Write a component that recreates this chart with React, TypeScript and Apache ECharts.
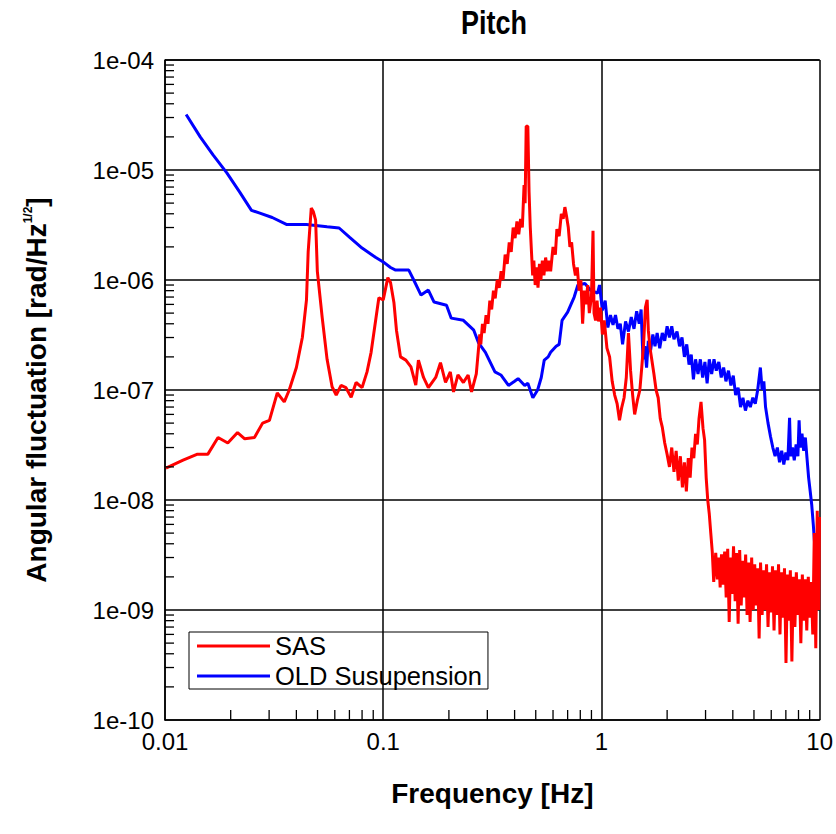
import React, { useEffect, useRef } from "react";
import * as echarts from "echarts";

const FONT = "'Liberation Sans', Arial, sans-serif";

const seriesNames = ["SAS", "OLD Susupension"];

// SAS: [frequency Hz, angular fluctuation rad/Hz^1/2]
const sasLow: number[][] = [
  [0.0101, 1.95e-8], [0.0121, 2.3e-8], [0.014, 2.6e-8], [0.0157, 2.6e-8], [0.0175, 3.7e-8],
  [0.0194, 3.3e-8], [0.0215, 4.1e-8], [0.0232, 3.6e-8], [0.0257, 3.7e-8], [0.028, 5.0e-8],
  [0.0301, 5.3e-8], [0.0327, 9.4e-8], [0.0352, 7.8e-8], [0.0371, 1.0e-7], [0.04, 1.6e-7],
  [0.0426, 3.0e-7], [0.0445, 6.6e-7], [0.0453, 1.8e-6], [0.0468, 4.5e-6], [0.0478, 4.2e-6],
  [0.049, 3.5e-6], [0.0499, 1.2e-6], [0.0525, 4.6e-7], [0.0553, 1.9e-7], [0.0583, 1.07e-7],
  [0.0609, 9e-8], [0.0641, 1.1e-7], [0.0675, 1.05e-7], [0.0713, 8.6e-8], [0.0751, 1.17e-7],
  [0.08, 1.05e-7], [0.0843, 1.46e-7], [0.088, 2.2e-7], [0.0955, 6.9e-7], [0.1, 6.6e-7],
  [0.105, 1.05e-6], [0.108, 9.5e-7], [0.112, 6.2e-7], [0.115, 3.5e-7], [0.12, 2.0e-7],
  [0.127, 1.87e-7], [0.134, 1.62e-7], [0.141, 1.11e-7], [0.145, 1.87e-7], [0.153, 1.3e-7],
  [0.161, 1.05e-7], [0.174, 1.3e-7], [0.183, 1.77e-7], [0.193, 1.17e-7], [0.203, 1.46e-7],
  [0.21, 9.6e-8], [0.22, 1.37e-7], [0.233, 1.17e-7], [0.245, 1.37e-7], [0.254, 9.6e-8],
  [0.267, 1.4e-7],
];
const sasMid: number[][] = [
  [0.273, 2.3e-7], [0.277, 3.2e-7], [0.28, 2.6e-7], [0.285, 4.0e-7], [0.29, 3.3e-7],
  [0.296, 4.8e-7], [0.302, 4.0e-7], [0.308, 6.5e-7], [0.314, 5.4e-7], [0.32, 8.0e-7],
  [0.326, 6.8e-7], [0.333, 1.0e-6], [0.34, 8.5e-7], [0.347, 1.2e-6], [0.354, 1.0e-6],
  [0.362, 1.7e-6], [0.37, 1.4e-6], [0.378, 2.2e-6], [0.386, 1.8e-6], [0.394, 3.0e-6],
  [0.402, 2.4e-6], [0.41, 3.4e-6], [0.418, 2.6e-6], [0.426, 3.6e-6], [0.434, 3.0e-6],
  [0.442, 7.3e-6], [0.447, 5.0e-6], [0.452, 2.5e-5], [0.46, 2.5e-5], [0.466, 6.3e-6],
  [0.472, 3.0e-6], [0.478, 1.8e-6], [0.484, 1.1e-6], [0.49, 1.5e-6], [0.497, 9.0e-7],
  [0.505, 1.3e-6], [0.512, 8.5e-7], [0.52, 1.4e-6], [0.528, 1.0e-6], [0.536, 1.5e-6],
  [0.545, 1.1e-6], [0.555, 1.6e-6], [0.565, 1.2e-6], [0.575, 1.5e-6], [0.585, 1.2e-6],
  [0.6, 2.0e-6], [0.615, 1.7e-6], [0.625, 2.9e-6], [0.64, 2.5e-6], [0.655, 4.0e-6],
  [0.668, 3.6e-6], [0.68, 4.6e-6], [0.692, 3.8e-6], [0.705, 3.0e-6], [0.717, 2.0e-6],
  [0.73, 2.2e-6], [0.745, 1.4e-6], [0.76, 1.1e-6], [0.775, 1.3e-6], [0.79, 8.0e-7],
  [0.805, 1.0e-6], [0.82, 4.0e-7], [0.835, 8.0e-7], [0.85, 6.0e-7], [0.865, 9.0e-7],
  [0.88, 5.0e-7], [0.9, 7.0e-7], [0.915, 2.8e-6], [0.925, 5.0e-7], [0.94, 4.3e-7],
  [0.955, 6.5e-7], [0.97, 4.2e-7], [0.99, 5.6e-7],
];
const sasHigh: number[][] = [
  [1.01, 3.2e-7], [1.03, 4.3e-7], [1.06, 2.4e-7], [1.09, 2.0e-7], [1.12, 1.2e-7],
  [1.15, 9.0e-8], [1.18, 7.5e-8], [1.21, 5.3e-8], [1.24, 7.0e-8], [1.27, 8.5e-8],
  [1.3, 1.3e-7], [1.33, 3.3e-7], [1.36, 1.5e-7], [1.39, 9.0e-8], [1.42, 6.0e-8],
  [1.46, 8.0e-8], [1.5, 1.0e-7], [1.53, 1.6e-7], [1.56, 2.6e-7], [1.59, 5.6e-7],
  [1.62, 6.6e-7], [1.64, 3.5e-7], [1.67, 2.4e-7], [1.7, 1.9e-7], [1.74, 1.4e-7],
  [1.78, 1.0e-7], [1.82, 8.5e-8], [1.86, 5.5e-8], [1.9, 4.6e-8], [1.95, 3.3e-8],
  [2.0, 2.6e-8], [2.05, 2.0e-8], [2.1, 3.0e-8], [2.15, 1.8e-8], [2.2, 2.8e-8],
  [2.25, 1.5e-8], [2.3, 2.5e-8], [2.35, 1.3e-8], [2.4, 2.2e-8], [2.45, 1.2e-8],
  [2.5, 2.4e-8], [2.55, 1.6e-8], [2.6, 3.0e-8], [2.65, 2.4e-8], [2.7, 4.0e-8],
  [2.75, 3.2e-8], [2.8, 5.5e-8], [2.86, 7.8e-8], [2.92, 4.5e-8], [2.97, 3.5e-8],
  [3.02, 1.6e-8], [3.07, 1.0e-8], [3.12, 7.5e-9], [3.17, 5.0e-9], [3.22, 3.4e-9],
  [3.27, 1.8e-9],
];
const sasNoise: number[][] = [
  [3.29, 1.8e-9], [3.34, 3.3e-9], [3.4, 1.9e-9], [3.45, 3.0e-9], [3.5, 1.6e-9],
  [3.55, 3.2e-9], [3.61, 1.7e-9], [3.67, 3.4e-9], [3.73, 1.3e-9], [3.79, 3.6e-9],
  [3.85, 7.8e-10], [3.91, 3.0e-9], [3.97, 1.4e-9], [4.03, 3.8e-9], [4.1, 1.2e-9],
  [4.16, 3.3e-9], [4.23, 7.5e-10], [4.3, 3.5e-9], [4.37, 1.1e-9], [4.44, 2.8e-9],
  [4.51, 1.3e-9], [4.58, 3.2e-9], [4.65, 9.0e-10], [4.72, 2.7e-9], [4.8, 7.8e-10],
  [4.88, 3.0e-9], [4.96, 1.0e-9], [5.04, 2.6e-9], [5.12, 1.1e-9], [5.2, 2.4e-9],
  [5.28, 5.5e-10], [5.36, 2.7e-9], [5.45, 9.0e-10], [5.53, 2.3e-9], [5.62, 1.0e-9],
  [5.71, 2.6e-9], [5.8, 7.0e-10], [5.9, 2.2e-9], [5.99, 9.5e-10], [6.08, 2.5e-9],
  [6.18, 6.5e-10], [6.28, 2.3e-9], [6.38, 9.0e-10], [6.48, 2.6e-9], [6.58, 6.0e-10],
  [6.68, 2.2e-9], [6.79, 8.5e-10], [6.9, 2.4e-9], [7.01, 3.3e-10], [7.12, 2.1e-9],
  [7.23, 8.0e-10], [7.34, 2.3e-9], [7.46, 3.4e-10], [7.58, 2.0e-9], [7.7, 7.0e-10],
  [7.82, 2.2e-9], [7.95, 9.0e-10], [8.07, 1.9e-9], [8.2, 5.0e-10], [8.33, 2.1e-9],
  [8.46, 8.0e-10], [8.6, 1.9e-9], [8.73, 6.5e-10], [8.87, 2.0e-9], [9.01, 8.5e-10],
  [9.15, 1.8e-9], [9.3, 6.0e-10], [9.45, 5.0e-9], [9.6, 4.5e-10], [9.75, 8.0e-9],
  [9.91, 1.0e-9], [9.98, 7.0e-9],
];

// OLD Susupension
const oldLow: number[][] = [
  [0.0125, 3.2e-5], [0.0145, 2.0e-5], [0.0166, 1.37e-5], [0.0192, 9.4e-6], [0.022, 6.3e-6],
  [0.0249, 4.3e-6], [0.027, 4.07e-6], [0.031, 3.7e-6], [0.036, 3.2e-6], [0.0445, 3.2e-6],
  [0.0553, 3.05e-6], [0.0628, 2.97e-6], [0.07, 2.45e-6], [0.08, 1.95e-6], [0.0925, 1.6e-6],
  [0.1, 1.46e-6], [0.108, 1.3e-6], [0.114, 1.23e-6], [0.131, 1.23e-6], [0.138, 1.0e-6],
  [0.149, 7.3e-7], [0.161, 8.1e-7], [0.171, 6.3e-7], [0.195, 5.9e-7], [0.205, 4.5e-7],
  [0.233, 4.3e-7], [0.26, 3.5e-7], [0.273, 2.7e-7], [0.294, 2.2e-7], [0.325, 1.46e-7],
  [0.346, 1.37e-7], [0.375, 1.1e-7], [0.4, 1.2e-7], [0.415, 1.27e-7], [0.445, 1.1e-7],
  [0.46, 1.15e-7], [0.485, 8.5e-8], [0.51, 1.0e-7], [0.53, 1.3e-7], [0.547, 1.87e-7],
  [0.57, 2.0e-7], [0.585, 2.2e-7], [0.62, 2.5e-7], [0.64, 2.6e-7], [0.66, 4.3e-7],
  [0.7, 5.1e-7], [0.75, 7.0e-7], [0.78, 9.0e-7], [0.84, 9.3e-7], [0.89, 8.1e-7],
  [0.96, 7.6e-7],
];
const oldHigh: number[][] = [
  [0.98, 9.0e-7], [1.01, 5.3e-7], [1.04, 6.5e-7], [1.07, 3.7e-7], [1.1, 4.8e-7],
  [1.13, 3.9e-7], [1.16, 4.8e-7], [1.19, 3.6e-7], [1.22, 4.0e-7], [1.25, 2.6e-7],
  [1.29, 4.2e-7], [1.33, 3.4e-7], [1.37, 4.6e-7], [1.41, 3.6e-7], [1.45, 5.2e-7],
  [1.49, 4.0e-7], [1.52, 5.4e-7], [1.55, 1.9e-7], [1.58, 2.5e-7], [1.61, 1.6e-7],
  [1.64, 2.8e-7], [1.68, 2.3e-7], [1.72, 3.2e-7], [1.76, 2.5e-7], [1.8, 3.3e-7],
  [1.85, 2.4e-7], [1.9, 3.3e-7], [1.95, 2.8e-7], [2.0, 3.8e-7], [2.05, 3.0e-7],
  [2.1, 3.8e-7], [2.15, 2.9e-7], [2.22, 3.4e-7], [2.28, 2.5e-7], [2.34, 3.0e-7],
  [2.4, 2.0e-7], [2.46, 2.6e-7], [2.52, 1.7e-7], [2.58, 2.1e-7], [2.64, 1.25e-7],
  [2.7, 1.9e-7], [2.77, 1.4e-7], [2.84, 1.9e-7], [2.91, 1.3e-7], [2.98, 1.8e-7],
  [3.05, 1.15e-7], [3.12, 1.9e-7], [3.2, 1.4e-7], [3.28, 1.9e-7], [3.36, 1.5e-7],
  [3.45, 1.8e-7], [3.54, 1.3e-7], [3.63, 1.6e-7], [3.72, 1.2e-7], [3.82, 1.5e-7],
  [3.92, 1.1e-7], [4.02, 1.35e-7], [4.12, 9.0e-8], [4.23, 1.05e-7], [4.34, 7.0e-8],
  [4.45, 8.5e-8], [4.57, 6.5e-8], [4.69, 8.0e-8], [4.81, 7.0e-8], [4.94, 8.5e-8],
  [5.07, 7.5e-8], [5.2, 1.0e-7], [5.35, 1.6e-7], [5.45, 1.0e-7], [5.55, 1.2e-7],
  [5.65, 7.0e-8], [5.8, 5.0e-8], [5.95, 3.8e-8], [6.1, 3.0e-8], [6.25, 2.5e-8],
  [6.4, 3.0e-8], [6.55, 2.2e-8], [6.7, 2.8e-8], [6.85, 2.1e-8], [7.0, 2.7e-8],
  [7.15, 2.3e-8], [7.28, 5.6e-8], [7.36, 2.5e-8], [7.5, 3.0e-8], [7.65, 2.3e-8],
  [7.8, 3.2e-8], [7.95, 2.5e-8], [8.05, 5.3e-8], [8.15, 3.0e-8], [8.3, 4.0e-8],
  [8.45, 2.8e-8], [8.6, 3.7e-8], [8.75, 2.4e-8], [8.9, 1.6e-8], [9.05, 1.2e-8],
  [9.2, 9.0e-9], [9.35, 6.0e-9], [9.5, 3.8e-9], [9.7, 4.0e-9],
];

// Axis range and tick decades
const xMin = 0.01, xMax = 10;
const yMin = 1e-10, yMax = 1e-4;
const xDecades = [0.01, 0.1, 1];
const yDecades = [1e-10, 1e-9, 1e-8, 1e-7, 1e-6, 1e-5];
const minorMultipliers = [2, 3, 4, 5, 6, 7, 8, 9];

export default function App() {
  const ref = useRef<HTMLDivElement>(null);
  useEffect(() => {
    if (!ref.current) return;
    const chart = echarts.init(ref.current, undefined, { renderer: "svg" });
    const yTickRender = (params: any, api: any) => {
      const base = api.value(1);
      const children = minorMultipliers.map((m) => {
        const p = api.coord([xMin, base * m]);
        return {
          type: "line",
          shape: { x1: p[0], y1: p[1], x2: p[0] + 9, y2: p[1] },
          style: { stroke: "#000", lineWidth: 1.3 },
        };
      });
      return { type: "group", children };
    };
    const xTickRender = (params: any, api: any) => {
      const base = api.value(0);
      const children = minorMultipliers.map((m) => {
        const p = api.coord([base * m, yMin]);
        return {
          type: "line",
          shape: { x1: p[0], y1: p[1], x2: p[0], y2: p[1] - 10 },
          style: { stroke: "#000", lineWidth: 1.3 },
        };
      });
      return { type: "group", children };
    };
    chart.setOption({
      animation: false,
      backgroundColor: "#fff",
      graphic: [
        {
          type: "text",
          x: 494,
          y: 23,
          scaleY: 1.2,
          style: {
            text: "Pitch",
            font: `bold 27px ${FONT}`,
            fill: "#000",
            textAlign: "center",
            textVerticalAlign: "middle",
          },
        },
      ],
      grid: { left: 165, right: 13, top: 60, bottom: 114, containLabel: false },
      legend: {
        data: seriesNames,
        orient: "vertical",
        left: 189,
        top: 632,
        icon: "rect",
        itemWidth: 73,
        itemHeight: 3,
        itemGap: 4,
        padding: [1, 6, 0, 8],
        borderColor: "#000",
        borderWidth: 1,
        borderRadius: 0,
        backgroundColor: "transparent",
        textStyle: { fontSize: 25.5, color: "#000", fontFamily: FONT },
      },
      xAxis: {
        type: "log",
        logBase: 10,
        min: xMin,
        max: xMax,
        name: "Frequency [Hz]",
        nameLocation: "middle",
        nameGap: 59,
        nameTextStyle: { fontSize: 28, fontWeight: "bold", color: "#000", fontFamily: FONT },
        axisLine: { show: true, lineStyle: { color: "#000", width: 1.5 } },
        axisTick: { show: false },
        splitLine: { show: true, lineStyle: { color: "#000", width: 1.5 } },
        axisLabel: {
          fontSize: 24,
          color: "#000",
          fontFamily: FONT,
          margin: 9,
          formatter: (v: number) => String(Number(v.toPrecision(1))),
        },
      },
      yAxis: {
        type: "log",
        logBase: 10,
        min: yMin,
        max: yMax,
        name: "{a|Angular fluctuation [rad/Hz}{s|1/2}{a|]}",
        nameLocation: "middle",
        nameRotate: 90,
        nameGap: 115,
        nameTextStyle: {
          color: "#000",
          rich: {
            a: { fontSize: 28, fontWeight: "bold", fontFamily: FONT, color: "#000" },
            s: { fontSize: 12, fontWeight: "bold", fontFamily: FONT, color: "#000", verticalAlign: "top" },
          },
        },
        axisLine: { show: true, lineStyle: { color: "#000", width: 1.5 } },
        axisTick: { show: false },
        splitLine: { show: true, lineStyle: { color: "#000", width: 1.5 } },
        axisLabel: {
          fontSize: 24,
          color: "#000",
          fontFamily: FONT,
          margin: 11,
          formatter: (v: number) => {
            const e = Math.round(Math.log10(v));
            return "1e" + (e < 0 ? "-" : "+") + String(Math.abs(e)).padStart(2, "0");
          },
        },
      },
      series: [
        {
          name: "OLD Susupension",
          type: "line",
          symbol: "none",
          showSymbol: false,
          color: "#0000ff",
          lineStyle: { color: "#0000ff", width: 3 },
          data: [...oldLow, ...oldHigh],
          z: 3,
        },
        {
          name: "SAS",
          type: "line",
          symbol: "none",
          showSymbol: false,
          color: "#ff0000",
          lineStyle: { color: "#ff0000", width: 3 },
          data: [...sasLow, ...sasMid, ...sasHigh, ...sasNoise],
          z: 4,
        },
        {
          type: "custom",
          silent: true,
          clip: false,
          renderItem: yTickRender,
          data: yDecades.map((d) => [xMin, d]),
          z: 5,
        },
        {
          type: "custom",
          silent: true,
          clip: false,
          renderItem: xTickRender,
          data: xDecades.map((d) => [d, yMin]),
          z: 5,
        },
      ],
    });
    return () => chart.dispose();
  }, []);
  return (
    <div
      ref={ref}
      style={{ position: "fixed", left: 0, top: 0, width: 836, height: 834, background: "#fff" }}
    />
  );
}
